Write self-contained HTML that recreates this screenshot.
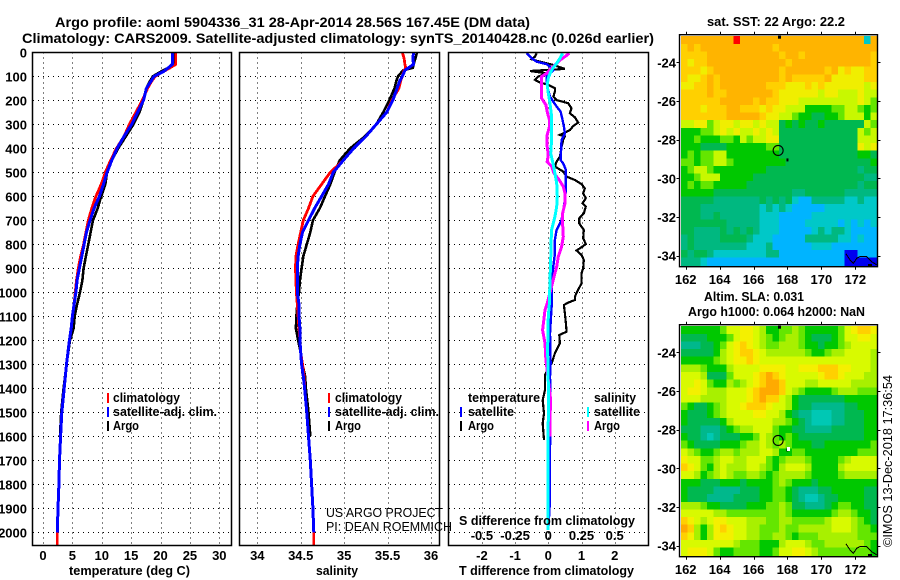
<!DOCTYPE html>
<html>
<head>
<meta charset="utf-8">
<title>Argo profile</title>
<style>
html,body{margin:0;padding:0;background:#fff;}
svg{display:block;}
text{font-family:"Liberation Sans",sans-serif;font-size:13px;font-weight:bold;fill:#000;}
.thin{font-weight:normal;}
.t14{font-size:14px;}
</style>
</head>
<body>
<svg id="chart" xmlns="http://www.w3.org/2000/svg" width="900" height="580" viewBox="0 0 900 580">
<rect x="0" y="0" width="900" height="580" fill="#fff"/>
<text class="t14" x="55" y="27" textLength="475" lengthAdjust="spacingAndGlyphs">Argo profile: aoml 5904336_31 28-Apr-2014 28.56S 167.45E (DM data)</text>
<text class="t14" x="22" y="43" textLength="632" lengthAdjust="spacingAndGlyphs">Climatology: CARS2009. Satellite-adjusted climatology: synTS_20140428.nc (0.026d earlier)</text>

<g id="gridT"></g>
<g id="gridS"></g>
<g id="gridD"></g>
<g id="marksT" shape-rendering="crispEdges"></g>
<g id="marksS" shape-rendering="crispEdges"></g>
<g id="marksD" shape-rendering="crispEdges"></g>
<rect x="32.5" y="52.5" width="199" height="493" fill="none" stroke="#000" stroke-width="1.5"/>
<rect x="239.5" y="52.5" width="200" height="493" fill="none" stroke="#000" stroke-width="1.5"/>
<rect x="448.5" y="52.5" width="200" height="493" fill="none" stroke="#000" stroke-width="1.5"/>
<g id="labels"></g>

<text x="69" y="575" textLength="121" lengthAdjust="spacingAndGlyphs">temperature (deg C)</text>
<text x="316" y="575" textLength="42" lengthAdjust="spacingAndGlyphs">salinity</text>
<text x="459" y="575" textLength="175" lengthAdjust="spacingAndGlyphs">T difference from climatology</text>
<text x="459" y="525" textLength="176" lengthAdjust="spacingAndGlyphs">S difference from climatology</text>

<g>
<rect x="107" y="393" width="2" height="10" fill="#f00"/>
<rect x="107" y="407" width="2" height="10" fill="#00f"/>
<rect x="107" y="421" width="2" height="10" fill="#000"/>
<text x="113" y="402" textLength="67" lengthAdjust="spacingAndGlyphs">climatology</text>
<text x="113" y="416" textLength="104" lengthAdjust="spacingAndGlyphs">satellite-adj. clim.</text>
<text x="113" y="430" textLength="26" lengthAdjust="spacingAndGlyphs">Argo</text>
</g>
<g>
<rect x="328" y="393" width="2" height="10" fill="#f00"/>
<rect x="328" y="407" width="2" height="10" fill="#00f"/>
<rect x="328" y="421" width="2" height="10" fill="#000"/>
<text x="335" y="402" textLength="67" lengthAdjust="spacingAndGlyphs">climatology</text>
<text x="335" y="416" textLength="104" lengthAdjust="spacingAndGlyphs">satellite-adj. clim.</text>
<text x="335" y="430" textLength="26" lengthAdjust="spacingAndGlyphs">Argo</text>
</g>
<text class="thin" x="326" y="517" textLength="117" lengthAdjust="spacingAndGlyphs">US ARGO PROJECT</text>
<text class="thin" x="326" y="531" textLength="126" lengthAdjust="spacingAndGlyphs">PI: DEAN ROEMMICH</text>
<g>
<text x="468" y="402" textLength="72" lengthAdjust="spacingAndGlyphs">temperature</text>
<text x="468" y="416" textLength="46" lengthAdjust="spacingAndGlyphs">satellite</text>
<text x="468" y="430" textLength="26" lengthAdjust="spacingAndGlyphs">Argo</text>
<text x="594" y="402" textLength="42" lengthAdjust="spacingAndGlyphs">salinity</text>
<text x="594" y="416" textLength="46" lengthAdjust="spacingAndGlyphs">satellite</text>
<text x="594" y="430" textLength="26" lengthAdjust="spacingAndGlyphs">Argo</text>
<rect x="460" y="407" width="2" height="10" fill="#00f"/>
<rect x="460" y="421" width="2" height="10" fill="#000"/>
<rect x="587" y="407" width="2" height="10" fill="#0ff"/>
<rect x="587" y="421" width="2" height="10" fill="#f0f"/>
</g>

<g id="map1"></g>
<g id="map2"></g>
<rect x="787" y="447" width="3" height="4" fill="#fff"/>
<rect x="868" y="264" width="4" height="3" fill="#000"/>
<rect x="868" y="554" width="4" height="3" fill="#000"/>
<text x="707" y="26" textLength="138" lengthAdjust="spacingAndGlyphs">sat. SST: 22 Argo: 22.2</text>
<text x="704" y="301" textLength="100" lengthAdjust="spacingAndGlyphs">Altim. SLA: 0.031</text>
<text x="688" y="316" textLength="177" lengthAdjust="spacingAndGlyphs">Argo h1000: 0.064 h2000: NaN</text>
<text class="thin" transform="translate(892,547) rotate(-90)" x="0" y="0" textLength="172" lengthAdjust="spacingAndGlyphs">©IMOS 13-Dec-2018 17:36:54</text>
</svg>

<script>
// Profile axes
var depthTicks = [0,100,200,300,400,500,600,700,800,900,1000,1100,1200,1300,1400,1500,1600,1700,1800,1900,2000];
var tempTicks = [0,5,10,15,20,25,30];
var salTickValues = [34,34.5,35,35.5,36];
var salTickLabels = ['34','34.5','35','35.5','36'];
var tDiffTicks = [-2,-1,0,1,2];
var sDiffTickValues = [-0.5,-0.25,0,0.25,0.5];
var sDiffTickLabels = ['-0.5','-0.25','0','0.25','0.5'];

// Temperature profiles
var tempDepths = [0,50,65,80,100,120,150,200,250,300,350,400,450,500,550,600,650,700,750,800,850,900,950,1000,1050,1100,1150,1200,1300,1400,1500,1600,1700,1800,1900,2000,2055];
var tempArgo = [22.3,22.2,21.3,20.1,18.7,18.2,17.6,17.1,16.4,15.4,14.1,12.8,11.7,10.9,10.6,9.9,9.3,8.5,8.1,7.7,7.3,6.9,6.7,6.3,5.8,5.4,5.2,4.6,4.0,3.5,3.1,2.9];
var tempClim = [22.6,22.6,21.6,20.5,19.1,18.5,17.8,16.9,15.8,14.7,13.8,12.5,11.5,10.6,9.9,9.0,8.3,7.7,7.3,6.9,6.4,6.0,5.7,5.5,5.3,5.0,4.8,4.5,4.0,3.6,3.2,3.0,2.8,2.7,2.55,2.44,2.44];
var tempSat = [22.0,22.0,21.3,20.5,18.9,18.4,17.6,17.1,16.1,15.1,13.8,12.6,11.7,10.9,10.3,9.6,8.7,8.0,7.4,7.0,6.6,6.2,5.8,5.6,5.3,5.0,4.8,4.5,4.0,3.6,3.2,3.0,2.8,2.7,2.55,2.44];

// Salinity profiles
var salDepths = [0,25,50,65,75,100,120,150,200,250,300,350,400,450,500,550,600,650,700,750,800,850,900,950,1000,1050,1100,1150,1200,1250,1300,1350,1400,1500,1600,1700,1800,1900,2000,2055];
var salArgo = [35.84,35.82,35.80,35.79,35.68,35.62,35.60,35.58,35.52,35.45,35.37,35.24,35.07,34.95,34.89,34.84,34.78,34.72,34.64,34.61,34.57,34.53,34.51,34.49,34.48,34.46,34.45,34.445,34.47,34.50,34.52,34.55,34.56,34.59,34.61];
var salClim = [35.67,35.69,35.70,35.71,35.69,35.67,35.65,35.63,35.55,35.49,35.37,35.25,35.11,34.99,34.84,34.74,34.64,34.59,34.53,34.50,34.47,34.445,34.44,34.445,34.45,34.46,34.47,34.48,34.49,34.50,34.52,34.54,34.545,34.57,34.59,34.61,34.625,34.64,34.65,34.65];
var salSat = [35.80,35.79,35.80,35.74,35.70,35.67,35.64,35.61,35.56,35.49,35.37,35.25,35.11,34.99,34.875,34.82,34.74,34.66,34.59,34.52,34.49,34.47,34.46,34.46,34.46,34.48,34.48,34.49,34.49,34.50,34.51,34.53,34.545,34.57,34.59,34.61,34.625,34.64,34.65];

// Difference profiles
var tDiffArgoDepths = [4,18,29,39,53,69,78,88,101,115,126,136,150,164,185,199,212,233,254,271,293,307,324,344,351,365,393,435,456,476,497,518,532,549,567,588,608,629,643,671,692,713,740,775,799,817,826,844,865,900,921,963,997,1018,1032,1043,1053,1088,1129,1164,1178,1213,1254,1296,1344,1365,1407,1449,1504,1546,1615];
var tDiffArgo = [-0.35,-0.40,-0.50,-0.25,0.15,0.50,-0.55,-0.05,-0.30,-0.40,-0.25,0,0.20,0.20,0.15,0.25,0.60,0.70,0.65,0.80,0.90,0.75,0.65,0.35,0.50,0.45,0.40,0.35,0.25,0.20,0.45,0.55,0.80,1.0,1.10,1.05,1.13,1.03,1.13,1.07,0.93,0.93,1.07,1.05,1.13,0.95,0.85,1.0,1.07,1.05,1.0,1.0,0.87,0.80,0.80,0.60,0.47,0.50,0.53,0.55,0.33,0.35,0.20,0.10,-0.10,-0.10,-0.10,-0.17,-0.13,-0.17,-0.13];
var tDiffSatDepths = [4,25,39,49,60,74,88,101,129,157,185,206,226,247,275,310,338,365,421,449,463,490,532,574,615,657,699,740,782,838,893,963,1060,1101,1171,1296,1351,1449,1657,1865,1990];
var tDiffSat = [-0.65,-0.50,-0.35,-0.05,0.05,0.15,0.05,-0.05,-0.05,0,0.05,0.15,0.25,0.37,0.42,0.47,0.50,0.40,0.38,0.37,0.45,0.53,0.53,0.53,0.50,0.45,0.40,0.25,0.20,0.20,0.15,0.10,0.10,0.08,0.05,0.07,0.05,0.07,0.05,0.05,0];
var sDiffArgoDepths = [4,18,32,53,67,88,101,122,157,192,219,247,282,310,344,393,428,456,476,504,532,560,588,629,671,713,768,810,851,893,935,976,1046,1074,1157,1213,1282,1365,1449,1518,1601];
var sDiffArgo = [0.158,0.126,0.088,0.05,0.025,-0.013,-0.05,-0.05,-0.05,-0.05,-0.018,-0.008,0.008,0.008,-0.008,-0.008,0,-0.008,0.025,0.043,0.083,0.113,0.126,0.126,0.108,0.108,0.113,0.10,0.075,0.063,0.043,0.025,-0.008,-0.025,-0.043,-0.025,-0.018,0,0.018,0.013,0.013];
var sDiffSatDepths = [4,25,46,67,88,108,136,171,213,268,310,365,421,469,504,546,601,643,685,740,796,865,949,1046,1101,1240,1379,1518,1726,1990];
var sDiffSat = [0.108,0.088,0.063,0.033,0.013,0,-0.008,0,0.013,0.025,0.025,0.025,0.018,0.038,0.05,0.063,0.068,0.063,0.05,0.025,0.02,0.018,0.013,0.008,0,-0.005,0,0,-0.003,-0.003];

// Map axes and overlays
var lonTicks = [162,164,166,168,170,172];
var latTicks = [-24,-26,-28,-30,-32,-34];
var argoLon = [167.45];
var argoLat = [-28.56];
var coastLon = [171.45,171.69,171.88,172.08,172.27,172.67,172.96,173.26];
var coastLat = [-33.91,-34.22,-34.40,-34.14,-34.05,-34.05,-34.31,-34.48];

// Heatmap level keys and colours
var levelKeys = ['0','1','2','3','4','5','6','7','8','9','a','b','r'];
var sstColors = ['#0000f0','#00b4ff','#00c8c8','#00b880','#00b850','#00c800','#64e600','#c8f800','#f0ee00','#ffd000','#ffb400','#ff9600','#ff0000'];
var slaColors = ['#0000f0','#00b4ff','#00c8b4','#00b88c','#00b850','#00c800','#64e600','#a8f000','#d8fa00','#f4f000','#ffd000','#ffaa00','#ff0000'];

// SST grid, one string per row from north to south
var sstRows = [
"aaaaaaaara aaaaaaaaaa aaaaaaaa2a",
"9a9aaaaaaa aaaa9aaaaa aaaaaaaaaa",
"9999aaaaaa aaaaa9aa9a aaaaaaaaa9",
"9899aaaaaa aaaaaa9aaa aaaaaaaaa9",
"99989aaaaa aaaaa9aaaa aa9a898899",
"9889a9aaaa aaaaa9a999 99a8888899",
"8899a9aaaa aaa9998889 8988888878",
"9999a99aaa aaaa988888 8788777877",
"999999aaaa a9a9988877 7777777876",
"9998999aa9 9989887775 5556677656",
"9999999aaa aa98877655 4455677757",
"7788678878 8787745454 4544444476",
"5556678787 7878744444 4444444767",
"5565556657 6778844444 4444444777",
"5554444555 5556644444 4444444878",
"5656677555 5555544444 4444444554",
"6656677655 5555554444 4444444445",
"5677655555 5554444444 4444444344",
"5567775555 5444444444 4444444433",
"5656655555 4444444444 4444444344",
"5555544444 4444444334 4444433333",
"4444433333 3343434211 3333322322",
"4443333333 3323232111 1122222222",
"4443343333 3322211111 2222222222",
"4444444333 3322211112 2222121212",
"4433334343 4322211111 2323321111",
"3433334444 3222111113 3333221211",
"3433333333 2223111111 2221111111",
"4344322222 2223311111 1111100111",
"3332111111 1111111111 1111100000"
];

// Sea level anomaly grid, one string per row from north to south
var slaRows = [
"5555556889 9875566765 5555689aa9",
"4444555689 9876567765 4445688998",
"333445689a 9876677765 5455678888",
"444445789a a987777776 5567788887",
"5555567899 a988888888 8888888887",
"7776555788 8899998899 9aaa998887",
"8887444688 89aba98888 89aa988877",
"8898655767 89abba8887 7888887777",
"8998777888 9abbba8765 5556777666",
"8887777888 9abaa87544 4444455555",
"6544567889 aaa9887544 3333344555",
"5444567888 8998875433 2223344455",
"5444445788 8888776543 2223344455",
"4443334567 7888655443 3334444455",
"5443234445 5687656544 4444444455",
"6544445556 7787676555 4455555556",
"8765567767 7788755665 5555555666",
"9886678877 8886567776 5555678888",
"a986578777 8876578887 5555788888",
"8875678766 7765677776 5555677777",
"5554445554 5555676555 4555555555",
"5444433334 4455665433 3445555544",
"5444333344 4455665432 2344555544",
"7776554444 5556676443 3345665544",
"8888877666 6666676555 5556776554",
"a987899888 7776677666 6678887654",
"ba7579a988 7766676677 7778887665",
"a975799988 7766776566 6777777666",
"8888888876 6655578887 6677777765",
"8999865566 6655688998 7666666665"
];

var SVGNS = 'http://www.w3.org/2000/svg';
var PANEL_TOP = 52.3, PANEL_BOTTOM = 545.5;
function yDepth(d){ return PANEL_TOP + 0.24 * d; }
function xTemp(v){ return 43 + 5.877 * v; }
function xSal(v){ return 257.3 + 86.85 * (v - 34); }
function xTDiff(v){ return 548.3 + 33.2 * v; }
function xSDiff(v){ return 548.3 + 132.8 * v; }
var MAP_LEFT = 679.5, MAP_RIGHT = 877.5, MAP_W = 198, MAP_H = 232;
function xLon(lon){ return 685.7 + 16.96 * (lon - 162); }
function yLat(lat, top){ return top + 27.6 - 19.33 * (lat + 24); }
function node(parent, tag){ var e = document.createElementNS(SVGNS, tag); parent.appendChild(e); return e; }

function addLabel(parent, x, y, str, anchor, name){
  var t = node(parent, 'text');
  t.setAttribute('x', x);
  t.setAttribute('y', y);
  t.setAttribute('text-anchor', anchor);
  
  
  t.textContent = str;
}

function addDotted(parent, x1, y1, x2, y2, name){
  var l = node(parent, 'line');
  l.setAttribute('x1', x1);
  l.setAttribute('y1', y1);
  l.setAttribute('x2', x2);
  l.setAttribute('y2', y2);
  l.setAttribute('stroke', '#000');
  l.setAttribute('stroke-width', '1');
  l.setAttribute('stroke-dasharray', '1 4');
  l.setAttribute('shape-rendering', 'crispEdges');
  
  
}

function drawGrid(groupId, left, right, xValues, xFn){
  var g = document.getElementById(groupId);
  depthTicks.forEach(function(d){
    if (d > 0) addDotted(g, left, Math.round(yDepth(d)) + 0.5, right, Math.round(yDepth(d)) + 0.5, 'depth-gridline');
  });
  xValues.forEach(function(v){
    addDotted(g, Math.round(xFn(v)) + 0.5, PANEL_TOP, Math.round(xFn(v)) + 0.5, PANEL_BOTTOM, 'x-gridline');
  });
}

function drawLine(groupId, depths, values, xFn, color, width, name){
  var g = document.getElementById(groupId);
  var pts = [];
  for (var i = 0; i < values.length; i++) {
    pts.push(xFn(values[i]).toFixed(1) + ',' + yDepth(depths[i]).toFixed(1));
  }
  var p = node(g, 'polyline');
  p.setAttribute('points', pts.join(' '));
  p.setAttribute('fill', 'none');
  p.setAttribute('stroke', color);
  p.setAttribute('stroke-width', width);
  
  
}

drawGrid('gridT', 33, 231, tempTicks, xTemp);
drawGrid('gridS', 240, 439, salTickValues, xSal);
drawGrid('gridD', 449, 648, tDiffTicks, xTDiff);

drawLine('marksT', tempDepths, tempArgo, xTemp, '#000', 2.6, 'temperature-argo-line');
drawLine('marksT', tempDepths, tempClim, xTemp, '#f00', 2.8, 'temperature-climatology-line');
drawLine('marksT', tempDepths, tempSat, xTemp, '#00f', 3, 'temperature-satellite-line');
drawLine('marksS', salDepths, salArgo, xSal, '#000', 2.6, 'salinity-argo-line');
drawLine('marksS', salDepths, salClim, xSal, '#f00', 2.8, 'salinity-climatology-line');
drawLine('marksS', salDepths, salSat, xSal, '#00f', 3, 'salinity-satellite-line');
drawLine('marksD', tDiffArgoDepths, tDiffArgo, xTDiff, '#000', 2.2, 'difference-t-argo-line');
drawLine('marksD', tDiffSatDepths, tDiffSat, xTDiff, '#00f', 2.4, 'difference-t-satellite-line');
drawLine('marksD', sDiffArgoDepths, sDiffArgo, xSDiff, '#f0f', 3, 'difference-s-argo-line');
drawLine('marksD', sDiffSatDepths, sDiffSat, xSDiff, '#0ff', 3, 'difference-s-satellite-line');

var labelGroup = document.getElementById('labels');
depthTicks.forEach(function(d){
  addLabel(labelGroup, 27, yDepth(d) + 5, String(d), 'end', 'depth-tick-label');
});
tempTicks.forEach(function(v){
  addLabel(labelGroup, xTemp(v), 560, String(v), 'middle', 'temperature-tick-label');
});
salTickValues.forEach(function(v, i){
  addLabel(labelGroup, xSal(v), 560, salTickLabels[i], 'middle', 'salinity-tick-label');
});
tDiffTicks.forEach(function(v){
  addLabel(labelGroup, xTDiff(v), 560, String(v), 'middle', 't-difference-tick-label');
});
sDiffTickValues.forEach(function(v, i){
  addLabel(labelGroup, xSDiff(v), 540, sDiffTickLabels[i], 'middle', 's-difference-tick-label');
});

function drawMap(groupId, top, rows, colors, labelBaseline, prefix){
  var g = document.getElementById(groupId);
  var cells = node(g, 'g');
  cells.setAttribute('shape-rendering', 'crispEdges');
  
  
  var imgLeft = 681, imgTop = top + 1.5, imgW = 196, imgH = 229;
  rows.forEach(function(row, r){
    var s = row.replace(/ /g, '');
    var cw = imgW / s.length, ch = imgH / rows.length;
    for (var c = 0; c < s.length; c++) {
      var cell = node(cells, 'rect');
      cell.setAttribute('x', (imgLeft + c * cw).toFixed(2));
      cell.setAttribute('y', (imgTop + r * ch).toFixed(2));
      cell.setAttribute('width', (cw + 0.6).toFixed(2));
      cell.setAttribute('height', (ch + 0.6).toFixed(2));
      cell.setAttribute('fill', colors[levelKeys.indexOf(s[c])]);
      
      
    }
  });
  var frame = node(g, 'rect');
  frame.setAttribute('x', MAP_LEFT);
  frame.setAttribute('y', top);
  frame.setAttribute('width', MAP_W);
  frame.setAttribute('height', MAP_H);
  frame.setAttribute('fill', 'none');
  frame.setAttribute('stroke', '#000');
  frame.setAttribute('stroke-width', '1.4');
  
  
  lonTicks.forEach(function(lon){
    var x = Math.round(xLon(lon)) + 0.5;
    [[top - 3, top], [top + MAP_H, top + MAP_H + 3]].forEach(function(seg){
      var t = node(g, 'line');
      t.setAttribute('x1', x);
      t.setAttribute('x2', x);
      t.setAttribute('y1', seg[0]);
      t.setAttribute('y2', seg[1]);
      t.setAttribute('stroke', '#000');
      
      
    });
    addLabel(g, xLon(lon), labelBaseline, String(lon), 'middle', prefix + '-lon-label');
  });
  latTicks.forEach(function(lat){
    var y = Math.round(yLat(lat, top)) + 0.5;
    [[MAP_LEFT - 3, MAP_LEFT], [MAP_RIGHT, MAP_RIGHT + 3]].forEach(function(seg){
      var t = node(g, 'line');
      t.setAttribute('x1', seg[0]);
      t.setAttribute('x2', seg[1]);
      t.setAttribute('y1', y);
      t.setAttribute('y2', y);
      t.setAttribute('stroke', '#000');
      
      
    });
    addLabel(g, 676, yLat(lat, top) + 5, String(lat), 'end', prefix + '-lat-label');
  });
  var coast = [];
  coastLon.forEach(function(lon, i){ coast.push(xLon(lon).toFixed(1) + ',' + yLat(coastLat[i], top).toFixed(1)); });
  var cl = node(g, 'polyline');
  cl.setAttribute('points', coast.join(' '));
  cl.setAttribute('fill', 'none');
  cl.setAttribute('stroke', '#000');
  cl.setAttribute('stroke-width', '1');
  cl.setAttribute('shape-rendering', 'crispEdges');
  
  
  var circle = node(g, 'circle');
  circle.setAttribute('cx', xLon(argoLon[0]));
  circle.setAttribute('cy', yLat(argoLat[0], top));
  circle.setAttribute('r', '5');
  circle.setAttribute('fill', 'none');
  circle.setAttribute('stroke', '#000');
  circle.setAttribute('stroke-width', '1.1');
  
  
  var island = node(g, 'rect');
  island.setAttribute('x', xLon(168) - 1);
  island.setAttribute('y', yLat(-29.05, top) - 1.5);
  island.setAttribute('width', '2');
  island.setAttribute('height', '3');
  island.setAttribute('fill', '#000');
  
  
  var islandTop = node(g, 'rect');
  islandTop.setAttribute('x', xLon(167.5) - 1);
  islandTop.setAttribute('y', top + 1);
  islandTop.setAttribute('width', '3');
  islandTop.setAttribute('height', '3');
  islandTop.setAttribute('fill', '#000');
  
  
}

drawMap('map1', 34.7, sstRows, sstColors, 284, 'sst');
drawMap('map2', 324.7, slaRows, slaColors, 574, 'sla');
</script>
</body>
</html>
